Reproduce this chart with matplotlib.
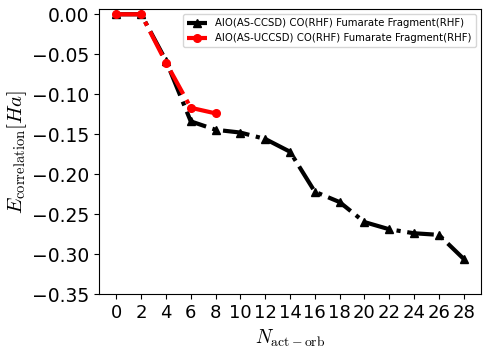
import matplotlib
matplotlib.use("Agg")
import matplotlib.pyplot as plt

plt.rcParams['mathtext.fontset'] = 'cm'

n_black = [0, 2, 4, 6, 8, 10, 12, 14, 16, 18, 20, 22, 24, 26, 28]
e_black = [0.0, 0.0, -0.058, -0.134, -0.1445, -0.148, -0.156, -0.172, -0.222,
           -0.235, -0.260, -0.269, -0.274, -0.276, -0.306]
n_red = [0, 2, 4, 6, 8]
e_red = [0.0, 0.0, -0.0605, -0.117, -0.124]
label_black = "AIO(AS-CCSD) CO(RHF) Fumarate Fragment(RHF)"
label_red = "AIO(AS-UCCSD) CO(RHF) Fumarate Fragment(RHF)"

fig = plt.figure(figsize=(4.9, 3.48), dpi=100)
ax = fig.add_axes([99/490, 1-294/348, (481-99)/490, (294-9)/348])
ax.plot(n_black, e_black, '-.', color='black', marker='^', lw=3, ms=6, label=label_black)
ax.plot(n_red, e_red, '-.', color='red', marker='o', lw=3, ms=5.5, label=label_red)
ax.set_xticks(n_black)
ax.set_ylim(-0.35, 0.0066)
ax.set_yticks([0.0, -0.05, -0.10, -0.15, -0.20, -0.25, -0.30, -0.35])
ax.set_yticklabels(["0.00", "\u22120.05", "\u22120.10", "\u22120.15", "\u22120.20", "\u22120.25", "\u22120.30", "\u22120.35"])
ax.tick_params(axis='y', labelsize=13.5)
ax.tick_params(axis='x', labelsize=13)
ax.set_xlabel(r"$N_{\mathrm{act-orb}}$", fontsize=14)
ax.set_ylabel(r"$E_{\mathrm{correlation}}[Ha]$", fontsize=15, labelpad=2)
ax.legend(loc='upper right', fontsize=7.3)
fig.savefig("out.png", dpi=100)
